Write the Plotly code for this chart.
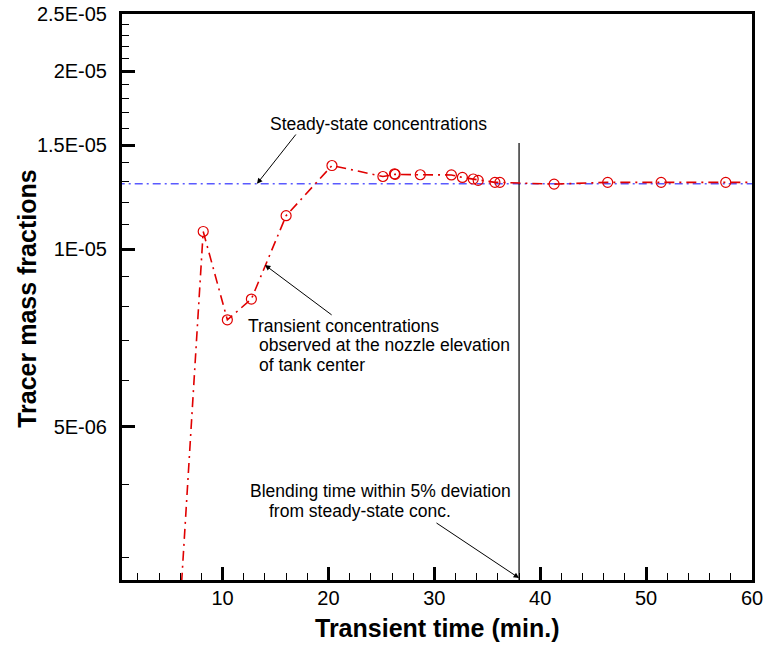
import math
import plotly.graph_objects as go

# Transient tracer concentration at the nozzle elevation (tank center)
time_min = [6.0, 8.17, 10.45, 12.72, 16.0, 20.33, 25.14, 26.24, 26.3, 28.67,
            31.61, 32.65, 33.67, 34.14, 35.72, 36.19, 41.31, 46.37, 51.42,
            57.52, 62.0]
mass_frac = [2.5e-6, 1.071e-5, 7.59e-6, 8.23e-6, 1.139e-5, 1.385e-5, 1.327e-5,
             1.341e-5, 1.338e-5, 1.336e-5, 1.335e-5, 1.322e-5, 1.314e-5,
             1.307e-5, 1.297e-5, 1.297e-5, 1.288e-5, 1.297e-5, 1.297e-5,
             1.297e-5, 1.297e-5]

# Steady-state concentration and blending time
steady_state = 1.29e-5
blend_time = 38.0
blend_line_top = 1.512e-5

# Axis ticks
y_major_vals = [5e-6, 1e-5, 1.5e-5, 2e-5, 2.5e-5]
y_major_text = ["5E-06", "1E-05", "1.5E-05", "2E-05", "2.5E-05"]
y_minor_vals = [3e-6, 4e-6, 6e-6, 7e-6, 8e-6, 9e-6,
                1.1e-5, 1.2e-5, 1.3e-5, 1.4e-5,
                1.6e-5, 1.7e-5, 1.8e-5, 1.9e-5,
                2.1e-5, 2.2e-5, 2.3e-5, 2.4e-5]
x_range = [0.5, 60]
y_range = [2.753e-6, 2.5e-5]

FONT = "Liberation Sans, Arial, Helvetica, sans-serif"
RED = "#e00000"
BLUE = "#5a5aff"

fig = go.Figure()

# steady-state reference line across the whole time window
fig.add_trace(go.Scatter(
    x=[0, 62], y=[steady_state, steady_state], mode="lines",
    line=dict(color=BLUE, width=1.5, dash="8px,4px,2px,4px"),
    hoverinfo="skip", showlegend=False))

# blending-time marker
fig.add_trace(go.Scatter(
    x=[blend_time, blend_time], y=[blend_line_top, 1e-6], mode="lines",
    line=dict(color="black", width=1.2),
    hoverinfo="skip", showlegend=False))

# transient concentrations
fig.add_trace(go.Scatter(
    x=time_min, y=mass_frac, mode="lines+markers",
    line=dict(color=RED, width=1.6, dash="10px,5px,2px,5px"),
    marker=dict(symbol="circle-open", size=10, color=RED,
                line=dict(width=1.2, color=RED)),
    cliponaxis=True, showlegend=False))

L = math.log10
txt = dict(family=FONT, size=17.5, color="black")


def label(x, ylog, text):
    fig.add_annotation(x=x, y=ylog, xref="x", yref="y", text=text,
                       showarrow=False, xanchor="left", yanchor="middle",
                       font=txt)


def pointer(x, ylog, ax, aylog):
    fig.add_annotation(x=x, y=ylog, ax=ax, ay=aylog, xref="x", yref="y",
                       axref="x", ayref="y", text="", showarrow=True,
                       arrowhead=2, arrowsize=1.1, arrowwidth=1,
                       arrowcolor="black")


label(14.29, -4.7883, "Steady-state concentrations")
pointer(13.25, L(steady_state), 17.03, -4.8035)

label(12.21, -5.1305, "Transient concentrations")
label(13.25, -5.1625, "observed at the nozzle elevation")
label(13.25, -5.1957, "of tank center")
pointer(14.0, -5.0270, 20.44, -5.1133)

label(12.40, -5.4101, "Blending time within 5% deviation")
label(14.20, -5.4433, "from steady-state conc.")
pointer(blend_time, -5.5569, 30.06, -5.462)

# axis titles
fig.add_annotation(x=0.5, y=-0.085, xref="paper", yref="paper",
                   text="<b>Transient time (min.)</b>", showarrow=False,
                   xanchor="center", yanchor="middle",
                   font=dict(family=FONT, size=25, color="black"))
fig.add_annotation(x=-0.151, y=0.4965, xref="paper", yref="paper",
                   text="<b>Tracer mass fractions</b>", showarrow=False,
                   textangle=-90, xanchor="center", yanchor="middle",
                   font=dict(family=FONT, size=25, color="black"))

fig.update_xaxes(
    range=x_range, showgrid=False, zeroline=False, automargin=False,
    showline=True, linecolor="black", linewidth=3, mirror=True,
    tickmode="linear", tick0=0, dtick=10,
    ticks="inside", ticklen=13, tickwidth=3, tickcolor="black",
    tickfont=dict(family=FONT, size=20, color="black"),
    ticklabelstandoff=-2,
    minor=dict(tickmode="linear", tick0=0, dtick=2, ticks="inside",
               ticklen=7, tickwidth=1, tickcolor="black", showgrid=False))

fig.update_yaxes(
    type="log", range=[L(y_range[0]), L(y_range[1])],
    showgrid=False, zeroline=False, automargin=False,
    showline=True, linecolor="black", linewidth=3, mirror=True,
    tickmode="array", tickvals=y_major_vals, ticktext=y_major_text,
    ticks="inside", ticklen=13, tickwidth=3, tickcolor="black",
    tickfont=dict(family=FONT, size=20, color="black"),
    ticklabelstandoff=8,
    minor=dict(tickmode="array", tickvals=y_minor_vals, ticks="inside",
               ticklen=7, tickwidth=1, tickcolor="black", showgrid=False))

fig.update_layout(
    width=767, height=645,
    margin=dict(l=122, r=15, t=14, b=65),
    plot_bgcolor="white", paper_bgcolor="white",
    showlegend=False)

fig.write_html("out.html")
